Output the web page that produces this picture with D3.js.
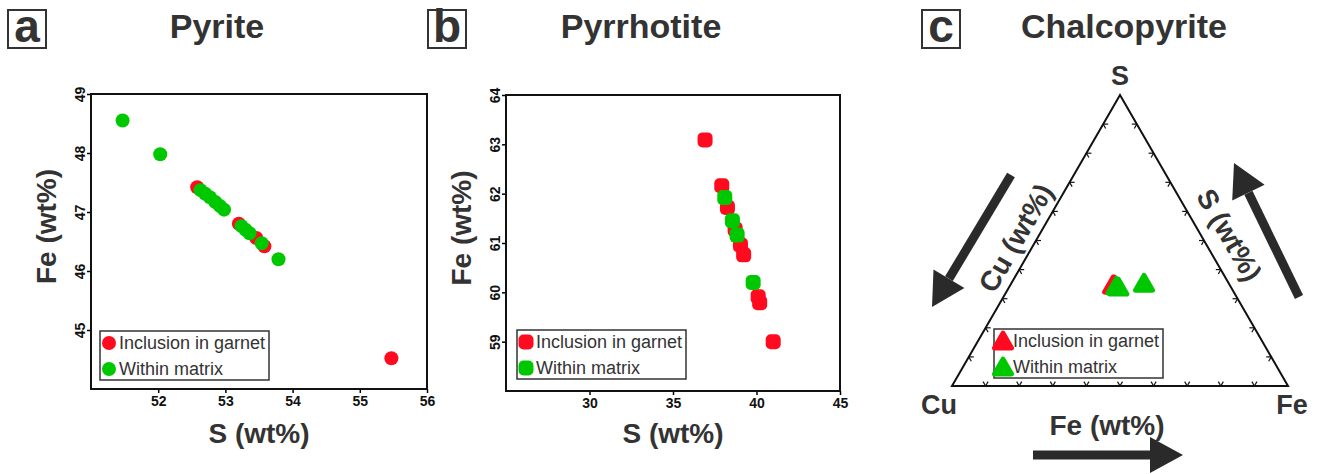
<!DOCTYPE html>
<html>
<head>
<meta charset="utf-8">
<style>
  body { margin: 0; background: #fff; }
  text { font-family: "Liberation Sans", Arial, sans-serif; }
</style>
</head>
<body>
<div id="chart"></div>
<script src="https://d3js.org/d3.v7.min.js"></script>
<script>
    const width = 1318;
    const height = 474;

    const RED = "#ff0a1e";
    const GREEN = "#00c800";
    const INK = "#333";

    // legend entries
    const groups = ["Inclusion in garnet", "Within matrix"];

    // (a) pyrite, S vs Fe (wt%)
    const pyInclS = [52.58, 53.20, 53.46, 53.58, 55.47];
    const pyInclFe = [47.42, 46.80, 46.56, 46.42, 44.52];
    const pyMatS = [51.47, 52.03, 52.63, 52.70, 52.77, 52.85, 52.92, 52.98, 53.24, 53.30, 53.36, 53.54, 53.79];
    const pyMatFe = [48.55, 47.98, 47.37, 47.31, 47.25, 47.17, 47.10, 47.04, 46.76, 46.70, 46.64, 46.47, 46.20];
    const pyXTicks = [52, 53, 54, 55, 56];
    const pyYTicks = [45, 46, 47, 48, 49];

    // (b) pyrrhotite, S vs Fe (wt%)
    const poInclS = [36.92, 37.92, 38.26, 38.72, 39.04, 39.23, 40.10, 40.19, 41.00];
    const poInclFe = [63.09, 62.16, 61.72, 61.28, 60.96, 60.76, 59.91, 59.79, 59.00];
    const poMatS = [38.10, 38.56, 38.84, 39.80];
    const poMatFe = [61.92, 61.45, 61.16, 60.20];
    const poXTicks = [30, 35, 40, 45];
    const poYTicks = [59, 60, 61, 62, 63, 64];

    // (c) chalcopyrite, ternary Cu-Fe-S (wt%)
    const cpInclCu = [34.7, 34.3];
    const cpInclFe = [30.6, 31.0];
    const cpInclS = [34.7, 34.7];
    const cpMatCu = [33.5, 33.9, 25.2];
    const cpMatFe = [32.5, 31.8, 39.5];
    const cpMatS = [34.0, 34.3, 35.3];
    const ternTicks = [0.1, 0.2, 0.3, 0.4, 0.5, 0.6, 0.7, 0.8, 0.9];

    const svg = d3.select("#chart")
        .append("svg")
        .attr("width", width)
        .attr("height", height)
        .style("background-color", "#fff");

    function zip(a, b) { return a.map((v, i) => [v, b[i]]); }

    // panel letter in a box + title
    function panelTitle(letter, bx, title, tx) {
        svg.append("rect")
            .attr("x", bx).attr("y", 10).attr("width", 38).attr("height", 38)
            .attr("fill", "none").attr("stroke", INK).attr("stroke-width", 2);
        svg.append("text")
            .attr("x", bx + 19).attr("y", 42)
            .attr("text-anchor", "middle")
            .attr("font-size", "46px").attr("font-weight", "bold").attr("fill", INK)
            .text(letter);
        svg.append("text")
            .attr("x", tx).attr("y", 38)
            .attr("text-anchor", "middle")
            .attr("font-size", "34px").attr("font-weight", "bold").attr("fill", INK)
            .text(title);
    }

    function legend(x, y, drawMarker) {
        const g = svg.append("g").attr("transform", `translate(${x},${y})`);
        g.append("rect")
            .attr("width", 169).attr("height", 49)
            .attr("fill", "#fff").attr("stroke", INK).attr("stroke-width", 1.5);
        groups.forEach((name, i) => {
            const cy = 12 + i * 26;
            drawMarker(g, 9, cy, i === 0 ? RED : GREEN);
            g.append("text")
                .attr("x", 19).attr("y", cy + 6)
                .attr("font-size", "18px").attr("fill", INK)
                .text(name);
        });
    }

    function scatterPanel(cfg) {
        const x = d3.scaleLinear().domain(cfg.xDomain).range([cfg.left, cfg.right]);
        const y = d3.scaleLinear().domain(cfg.yDomain).range([cfg.bottom, cfg.top]);

        const xAxis = svg.append("g")
            .attr("transform", `translate(0,${cfg.bottom})`)
            .call(d3.axisBottom(x).tickValues(cfg.xTicks).tickSize(4).tickSizeOuter(0).tickFormat(d3.format("d")));
        xAxis.selectAll("text")
            .attr("font-size", "14px").attr("font-weight", "bold").attr("fill", "#111")
            .style("font-family", "'Liberation Sans', Arial, sans-serif");

        const yAxis = svg.append("g")
            .attr("transform", `translate(${cfg.left},0)`)
            .call(d3.axisLeft(y).tickValues(cfg.yTicks).tickSize(4).tickSizeOuter(0).tickFormat(d3.format("d")));
        yAxis.selectAll("text")
            .attr("x", null).attr("dy", null)
            .attr("text-anchor", "middle")
            .attr("transform", "translate(-6,0) rotate(-90)")
            .attr("font-size", "14px").attr("font-weight", "bold").attr("fill", "#111")
            .style("font-family", "'Liberation Sans', Arial, sans-serif");

        svg.selectAll(".tick line").attr("stroke-width", 1.5);
        xAxis.select(".domain").remove();
        yAxis.select(".domain").remove();

        svg.append("rect")
            .attr("x", cfg.left).attr("y", cfg.top)
            .attr("width", cfg.right - cfg.left).attr("height", cfg.bottom - cfg.top)
            .attr("fill", "none").attr("stroke", "#111").attr("stroke-width", 2);

        const g = svg.append("g");
        cfg.series.forEach(s => {
            s.points.forEach(p => cfg.marker(g, x(p[0]), y(p[1]), s.color));
        });

        legend(cfg.legendX, cfg.legendY, cfg.marker);

        svg.append("text")
            .attr("x", (cfg.left + cfg.right) / 2).attr("y", 443)
            .attr("text-anchor", "middle")
            .attr("font-size", "28px").attr("font-weight", "bold").attr("fill", INK)
            .text("S (wt%)");
        svg.append("text")
            .attr("transform", `translate(${cfg.left - 35},${(cfg.top + cfg.bottom) / 2 - 15}) rotate(-90)`)
            .attr("text-anchor", "middle")
            .attr("font-size", "28px").attr("font-weight", "bold").attr("fill", INK)
            .text("Fe (wt%)");
    }

    const circleMarker = (g, cx, cy, color) =>
        g.append("circle").attr("cx", cx).attr("cy", cy).attr("r", 7).attr("fill", color);

    const squareMarker = (g, cx, cy, color) =>
        g.append("rect").attr("x", cx - 7.5).attr("y", cy - 7.5)
            .attr("width", 15).attr("height", 15).attr("rx", 5).attr("fill", color);

    const triPath = d3.symbol(d3.symbolTriangle, 125)();
    const triMarker = (g, cx, cy, color) =>
        g.append("path").attr("d", triPath)
            .attr("transform", `translate(${cx},${cy + 2})`)
            .attr("fill", color).attr("stroke", color)
            .attr("stroke-width", 5).attr("stroke-linejoin", "round");

    // ---- panel a ----
    panelTitle("a", 8, "Pyrite", 217);
    scatterPanel({
        xDomain: [51, 56], yDomain: [44, 49],
        left: 91, right: 427, top: 94, bottom: 389,
        xTicks: pyXTicks, yTicks: pyYTicks,
        marker: circleMarker,
        series: [
            { color: RED, points: zip(pyInclS, pyInclFe) },
            { color: GREEN, points: zip(pyMatS, pyMatFe) }
        ],
        legendX: 100, legendY: 331
    });

    // ---- panel b ----
    panelTitle("b", 428, "Pyrrhotite", 641);
    scatterPanel({
        xDomain: [25, 45], yDomain: [58, 64],
        left: 506, right: 840, top: 95, bottom: 391,
        xTicks: poXTicks, yTicks: poYTicks,
        marker: squareMarker,
        series: [
            { color: RED, points: zip(poInclS, poInclFe) },
            { color: GREEN, points: zip(poMatS, poMatFe) }
        ],
        legendX: 517, legendY: 330
    });

    // ---- panel c: ternary ----
    panelTitle("c", 922, "Chalcopyrite", 1124);

    // horizontal position from (Fe + S/2), vertical from S
    const tx = d3.scaleLinear().domain([0, 1]).range([952, 1288]);
    const ty = d3.scaleLinear().domain([0, 1]).range([386, 95]);
    const proj = (cu, fe, s) => {
        const t = cu + fe + s;
        return [tx(fe / t + s / t / 2), ty(s / t)];
    };

    const pCu = proj(1, 0, 0), pFe = proj(0, 1, 0), pS = proj(0, 0, 1);
    svg.append("path")
        .attr("d", d3.line()([pCu, pFe, pS, pCu]) + "Z")
        .attr("fill", "none").attr("stroke", "#111").attr("stroke-width", 2)
        .attr("stroke-linejoin", "miter");

    // small inward tick marks on each edge
    const tickLen = 5;
    const sides = [
        { at: f => proj(1 - f, f, 0), dirs: [[-0.5, -0.866], [0.5, -0.866]] },
        { at: f => proj(1 - f, 0, f), dirs: [[1, 0], [0.5, 0.866]] },
        { at: f => proj(0, 1 - f, f), dirs: [[-1, 0], [-0.5, 0.866]] }
    ];
    const tickG = svg.append("g").attr("stroke", "#111").attr("stroke-width", 1.2);
    sides.forEach(sd => {
        ternTicks.forEach(f => {
            const p = sd.at(f);
            sd.dirs.forEach(d => {
                tickG.append("line")
                    .attr("x1", p[0]).attr("y1", p[1])
                    .attr("x2", p[0] + d[0] * tickLen).attr("y2", p[1] + d[1] * tickLen);
            });
        });
    });

    const tg = svg.append("g");
    cpInclCu.forEach((cu, i) => {
        const p = proj(cu, cpInclFe[i], cpInclS[i]);
        triMarker(tg, p[0], p[1], RED);
    });
    cpMatCu.forEach((cu, i) => {
        const p = proj(cu, cpMatFe[i], cpMatS[i]);
        triMarker(tg, p[0], p[1], GREEN);
    });

    legend(994, 329, triMarker);

    // vertex labels
    const vLabel = (txt, x, y) => svg.append("text")
        .attr("x", x).attr("y", y).attr("text-anchor", "middle")
        .attr("font-size", "27px").attr("font-weight", "bold").attr("fill", INK)
        .text(txt);
    vLabel("S", pS[0], pS[1] - 10);
    vLabel("Cu", pCu[0] - 13, pCu[1] + 28);
    vLabel("Fe", pFe[0] + 4, pFe[1] + 28);

    // axis labels along the edges
    const edgeLabel = (txt, x, y, ang) => svg.append("text")
        .attr("transform", `translate(${x},${y}) rotate(${ang})`)
        .attr("text-anchor", "middle").attr("dominant-baseline", "central")
        .attr("font-size", "28px").attr("font-weight", "bold").attr("fill", INK)
        .text(txt);
    edgeLabel("Cu (wt%)", 1016, 238, -60);
    edgeLabel("S (wt%)", 1229, 235, 60);
    svg.append("text")
        .attr("x", 1107).attr("y", 435).attr("text-anchor", "middle")
        .attr("font-size", "28px").attr("font-weight", "bold").attr("fill", INK)
        .text("Fe (wt%)");

    // thick direction arrows
    function arrow(x1, y1, x2, y2) {
        const ang = Math.atan2(y2 - y1, x2 - x1);
        const headL = 33, headW = 18, shaft = 4.5;
        const bx = x2 - headL * Math.cos(ang), by = y2 - headL * Math.sin(ang);
        const nx = -Math.sin(ang), ny = Math.cos(ang);
        svg.append("line")
            .attr("x1", x1).attr("y1", y1).attr("x2", bx).attr("y2", by)
            .attr("stroke", "#2a2a2a").attr("stroke-width", shaft * 2);
        svg.append("path")
            .attr("d", d3.line()([[x2, y2], [bx + nx * headW, by + ny * headW], [bx - nx * headW, by - ny * headW]]) + "Z")
            .attr("fill", "#2a2a2a");
    }
    arrow(1011, 175, 932, 307);
    arrow(1299, 297, 1234, 163);
    arrow(1033, 455, 1183, 455);
</script>
</body>
</html>
